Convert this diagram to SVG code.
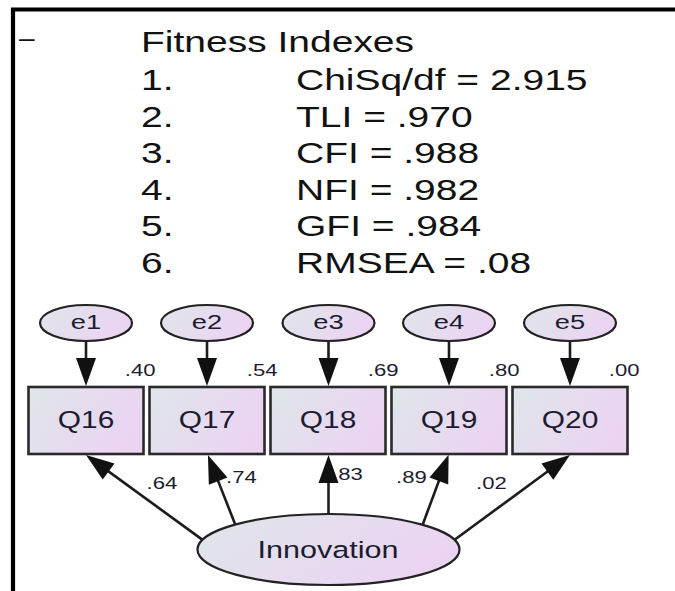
<svg xmlns="http://www.w3.org/2000/svg" width="675" height="591" viewBox="0 0 675 591">
  <defs>
    <linearGradient id="nodeFill" x1="0" y1="0" x2="1" y2="0.35">
      <stop offset="0" stop-color="#dfe6ea"/>
      <stop offset="1" stop-color="#ebd4f2"/>
    </linearGradient>
    <marker id="arrow" markerUnits="userSpaceOnUse" markerWidth="28" markerHeight="20" refX="1" refY="10" orient="auto" overflow="visible">
      <path d="M0,0 L28,10 L0,20 Z" fill="#111"/>
    </marker>
  </defs>
  <style>
    .hdr{font-family:"Liberation Sans",Arial,sans-serif;font-size:30px;fill:#121212}
    .nm{font-family:"Liberation Sans",Arial,sans-serif;fill:#1c1c30;text-anchor:middle}
    .coef{font-family:"Liberation Sans",Arial,sans-serif;font-size:17px;fill:#1c1c30}
    .box{fill:url(#nodeFill);stroke:#2a2a2a;stroke-width:2.6}
    .oval{fill:url(#nodeFill);stroke:#222;stroke-width:2.2}
    .edge{stroke:#1c1c1c;stroke-width:2.6;fill:none;marker-end:url(#arrow)}
  </style>

  <rect width="675" height="591" fill="#fff"/>
  <!-- frame (open at right and bottom) -->
  <path d="M13,591 V9.5 H675" fill="none" stroke="#000" stroke-width="4.2"/>

  <!-- fit summary -->
  <g id="fit-summary">
    <text class="hdr" x="19" y="47" style="font-size:28px">–</text>
    <text class="hdr" transform="translate(141,52) scale(1.3,1)">Fitness Indexes</text>
    <text class="hdr" transform="translate(141,90) scale(1.3,1)">1.</text>
    <text class="hdr" transform="translate(296,90) scale(1.3,1)">ChiSq/df = 2.915</text>
    <text class="hdr" transform="translate(141,126.5) scale(1.3,1)">2.</text>
    <text class="hdr" transform="translate(296,126.5) scale(1.3,1)">TLI = .970</text>
    <text class="hdr" transform="translate(141,163) scale(1.3,1)">3.</text>
    <text class="hdr" transform="translate(296,163) scale(1.3,1)">CFI = .988</text>
    <text class="hdr" transform="translate(141,199.5) scale(1.3,1)">4.</text>
    <text class="hdr" transform="translate(296,199.5) scale(1.3,1)">NFI = .982</text>
    <text class="hdr" transform="translate(141,236) scale(1.3,1)">5.</text>
    <text class="hdr" transform="translate(296,236) scale(1.3,1)">GFI = .984</text>
    <text class="hdr" transform="translate(141,272.5) scale(1.3,1)">6.</text>
    <text class="hdr" transform="translate(296,272.5) scale(1.3,1)">RMSEA = .08</text>
  </g>

  <!-- standardized estimates -->
  <g id="estimates" class="coef">
    <text text-anchor="end" transform="translate(155.5,376) scale(1.3,1)">.40</text>
    <text text-anchor="end" transform="translate(277.5,376) scale(1.3,1)">.54</text>
    <text text-anchor="end" transform="translate(398.5,376) scale(1.3,1)">.69</text>
    <text text-anchor="end" transform="translate(519.5,376) scale(1.3,1)">.80</text>
    <text text-anchor="end" transform="translate(639.5,376) scale(1.3,1)">.00</text>
    <text transform="translate(146.5,489) scale(1.3,1)">.64</text>
    <text transform="translate(226,483) scale(1.3,1)">.74</text>
    <text transform="translate(332,480) scale(1.3,1)">.83</text>
    <text transform="translate(396,483) scale(1.3,1)">.89</text>
    <text transform="translate(476,489) scale(1.3,1)">.02</text>
  </g>

  <!-- paths -->
  <g id="connectors">
    <line class="edge" x1="86" y1="338" x2="86" y2="359"/>
    <line class="edge" x1="207" y1="338" x2="207" y2="359"/>
    <line class="edge" x1="328.5" y1="338" x2="328.5" y2="359"/>
    <line class="edge" x1="449" y1="338" x2="449" y2="359"/>
    <line class="edge" x1="570" y1="338" x2="570" y2="359"/>
    <line class="edge" x1="205" y1="541.6" x2="107.8" y2="470.9"/>
    <line class="edge" x1="236.4" y1="527.5" x2="217.8" y2="480.1"/>
    <line class="edge" x1="328.5" y1="518" x2="328.5" y2="482"/>
    <line class="edge" x1="421.6" y1="527.5" x2="439.2" y2="480.1"/>
    <line class="edge" x1="453.6" y1="540.5" x2="548.2" y2="471"/>
  </g>

  <!-- error terms -->
  <g id="e1"><ellipse class="oval" cx="86" cy="323" rx="46" ry="18"/><text class="nm" transform="translate(86,329) scale(1.3,1)" font-size="21">e1</text></g>
  <g id="e2"><ellipse class="oval" cx="207" cy="323" rx="46" ry="18"/><text class="nm" transform="translate(207,329) scale(1.3,1)" font-size="21">e2</text></g>
  <g id="e3"><ellipse class="oval" cx="328.5" cy="323" rx="46" ry="18"/><text class="nm" transform="translate(328.5,329) scale(1.3,1)" font-size="21">e3</text></g>
  <g id="e4"><ellipse class="oval" cx="449" cy="323" rx="46" ry="18"/><text class="nm" transform="translate(449,329) scale(1.3,1)" font-size="21">e4</text></g>
  <g id="e5"><ellipse class="oval" cx="570" cy="323" rx="46" ry="18"/><text class="nm" transform="translate(570,329) scale(1.3,1)" font-size="21">e5</text></g>

  <!-- observed items -->
  <g id="Q16"><rect class="box" x="28.5" y="387" width="115" height="67"/><text class="nm" transform="translate(86,428) scale(1.3,1)" font-size="23">Q16</text></g>
  <g id="Q17"><rect class="box" x="149.5" y="387" width="115" height="67"/><text class="nm" transform="translate(207,428) scale(1.3,1)" font-size="23">Q17</text></g>
  <g id="Q18"><rect class="box" x="270.5" y="387" width="115" height="67"/><text class="nm" transform="translate(328,428) scale(1.3,1)" font-size="23">Q18</text></g>
  <g id="Q19"><rect class="box" x="391.5" y="387" width="115" height="67"/><text class="nm" transform="translate(449,428) scale(1.3,1)" font-size="23">Q19</text></g>
  <g id="Q20"><rect class="box" x="512.5" y="387" width="115" height="67"/><text class="nm" transform="translate(570,428) scale(1.3,1)" font-size="23">Q20</text></g>

  <!-- latent factor -->
  <g id="Innovation"><ellipse class="oval" cx="328.5" cy="549.5" rx="131" ry="35.5"/><text class="nm" transform="translate(328,558) scale(1.3,1)" font-size="23.5">Innovation</text></g>
</svg>
